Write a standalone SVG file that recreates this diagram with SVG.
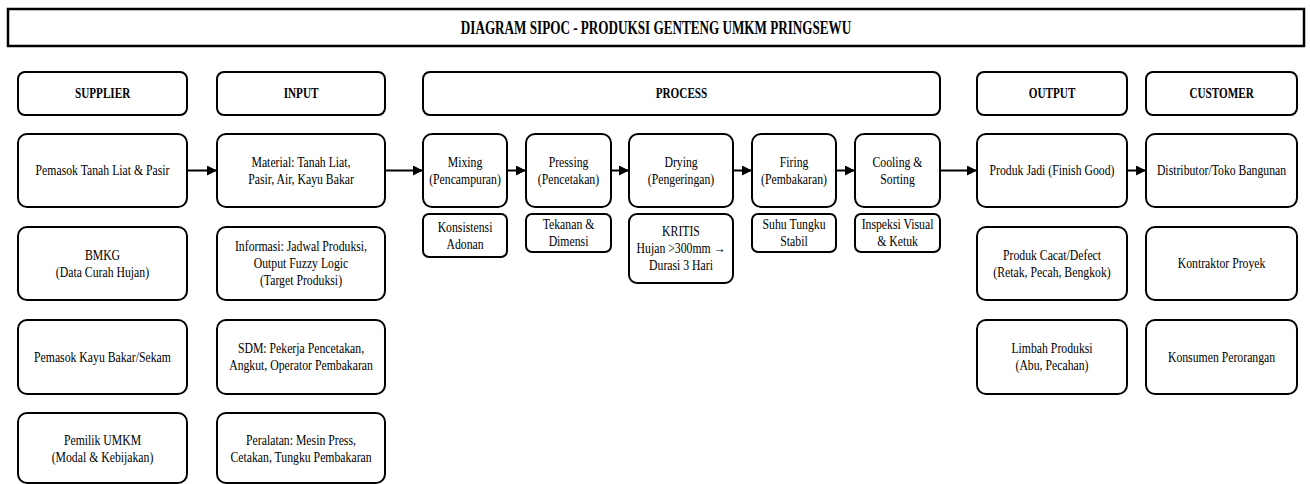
<svg xmlns="http://www.w3.org/2000/svg" width="1310" height="484" viewBox="0 0 1310 484">
<style>
.b{fill:#fff;stroke:#000;stroke-width:2}
.t,.h,.ti{font-family:"Liberation Serif","Times New Roman",serif;fill:#000;text-anchor:middle;transform-box:fill-box;transform-origin:center}
.t{font-size:14px;transform:scaleX(0.84)}
.h{font-size:14px;font-weight:bold;transform:scaleX(0.8)}
.ti{font-size:18px;font-weight:bold;transform:scaleX(0.73)}
.c{stroke:#000;stroke-width:2;fill:none;marker-end:url(#ah)}
</style>
<defs>
<marker id="ah" viewBox="0 0 10 10" refX="10" refY="5" markerWidth="10" markerHeight="10" orient="auto" markerUnits="userSpaceOnUse">
<path d="M0,0 L10,5 L0,10 z" fill="#000"/>
</marker>
</defs>
<rect width="1310" height="484" fill="#fff"/>
<g id="title">
<rect x="8" y="9" width="1296" height="37" fill="#fff" stroke="#000" stroke-width="2.5"/>
<text class="ti" x="656" y="34">DIAGRAM SIPOC - PRODUKSI GENTENG UMKM PRINGSEWU</text>
</g>
<g id="h-supplier"><rect class="b" x="18" y="72" width="169" height="43" rx="7"/><text class="h" x="102.5" y="98.5">SUPPLIER</text></g>
<g id="h-input"><rect class="b" x="217" y="72" width="168" height="43" rx="7"/><text class="h" x="301" y="98.5">INPUT</text></g>
<g id="h-process"><rect class="b" x="423" y="72" width="517" height="43" rx="7"/><text class="h" x="681.5" y="98.5">PROCESS</text></g>
<g id="h-output"><rect class="b" x="977" y="72" width="150" height="43" rx="7"/><text class="h" x="1052" y="98.5">OUTPUT</text></g>
<g id="h-customer"><rect class="b" x="1146" y="72" width="151" height="43" rx="7"/><text class="h" x="1221.5" y="98.5">CUSTOMER</text></g>

<g id="s1"><rect class="b" x="18" y="134" width="169" height="73" rx="9"/><text class="t" x="102.5" y="175.5">Pemasok Tanah Liat &amp; Pasir</text></g>
<g id="s2"><rect class="b" x="18" y="227" width="169" height="73" rx="9"/><text class="t" x="102.5" y="260">BMKG</text><text class="t" x="102.5" y="277">(Data Curah Hujan)</text></g>
<g id="s3"><rect class="b" x="18" y="320" width="169" height="74" rx="9"/><text class="t" x="102.5" y="362">Pemasok Kayu Bakar/Sekam</text></g>
<g id="s4"><rect class="b" x="18" y="413" width="169" height="70" rx="9"/><text class="t" x="102.5" y="445">Pemilik UMKM</text><text class="t" x="102.5" y="462">(Modal &amp; Kebijakan)</text></g>

<g id="i1"><rect class="b" x="217" y="134" width="168" height="73" rx="9"/><text class="t" x="301" y="167">Material: Tanah Liat,</text><text class="t" x="301" y="184">Pasir, Air, Kayu Bakar</text></g>
<g id="i2"><rect class="b" x="217" y="227" width="168" height="73" rx="9"/><text class="t" x="301" y="251.5">Informasi: Jadwal Produksi,</text><text class="t" x="301" y="268.5">Output Fuzzy Logic</text><text class="t" x="301" y="285.5">(Target Produksi)</text></g>
<g id="i3"><rect class="b" x="217" y="320" width="168" height="74" rx="9"/><text class="t" x="301" y="353.5">SDM: Pekerja Pencetakan,</text><text class="t" x="301" y="370.5">Angkut, Operator Pembakaran</text></g>
<g id="i4"><rect class="b" x="217" y="413" width="168" height="70" rx="9"/><text class="t" x="301" y="445">Peralatan: Mesin Press,</text><text class="t" x="301" y="462">Cetakan, Tungku Pembakaran</text></g>

<g id="p1"><rect class="b" x="423" y="134" width="84" height="73" rx="9"/><text class="t" x="465" y="167">Mixing</text><text class="t" x="465" y="184">(Pencampuran)</text></g>
<g id="p1n"><rect class="b" x="423" y="214" width="84" height="43" rx="6"/><text class="t" x="465" y="232">Konsistensi</text><text class="t" x="465" y="249">Adonan</text></g>
<g id="p2"><rect class="b" x="526" y="134" width="85" height="73" rx="9"/><text class="t" x="568.5" y="167">Pressing</text><text class="t" x="568.5" y="184">(Pencetakan)</text></g>
<g id="p2n"><rect class="b" x="526" y="214" width="85" height="38" rx="6"/><text class="t" x="568.5" y="229.5">Tekanan &amp;</text><text class="t" x="568.5" y="246.5">Dimensi</text></g>
<g id="p3"><rect class="b" x="629" y="134" width="104" height="73" rx="9"/><text class="t" x="681" y="167">Drying</text><text class="t" x="681" y="184">(Pengeringan)</text></g>
<g id="p3n"><rect class="b" x="629" y="214" width="104" height="69" rx="8"/><text class="t" x="681" y="236.5">KRITIS</text><text class="t" x="681" y="253.5">Hujan &gt;300mm →</text><text class="t" x="681" y="270.5">Durasi 3 Hari</text></g>
<g id="p4"><rect class="b" x="752" y="134" width="84" height="73" rx="9"/><text class="t" x="794" y="167">Firing</text><text class="t" x="794" y="184">(Pembakaran)</text></g>
<g id="p4n"><rect class="b" x="752" y="214" width="84" height="38" rx="6"/><text class="t" x="794" y="229.5">Suhu Tungku</text><text class="t" x="794" y="246.5">Stabil</text></g>
<g id="p5"><rect class="b" x="855" y="134" width="85" height="73" rx="9"/><text class="t" x="897.5" y="167">Cooling &amp;</text><text class="t" x="897.5" y="184">Sorting</text></g>
<g id="p5n"><rect class="b" x="855" y="214" width="85" height="38" rx="6"/><text class="t" x="897.5" y="229.5">Inspeksi Visual</text><text class="t" x="897.5" y="246.5">&amp; Ketuk</text></g>

<g id="o1"><rect class="b" x="977" y="134" width="150" height="73" rx="9"/><text class="t" x="1052" y="175.5">Produk Jadi (Finish Good)</text></g>
<g id="o2"><rect class="b" x="977" y="227" width="150" height="73" rx="9"/><text class="t" x="1052" y="260">Produk Cacat/Defect</text><text class="t" x="1052" y="277">(Retak, Pecah, Bengkok)</text></g>
<g id="o3"><rect class="b" x="977" y="320" width="150" height="74" rx="9"/><text class="t" x="1052" y="353.5">Limbah Produksi</text><text class="t" x="1052" y="370.5">(Abu, Pecahan)</text></g>

<g id="c1"><rect class="b" x="1146" y="134" width="151" height="73" rx="9"/><text class="t" x="1221.5" y="175.5">Distributor/Toko Bangunan</text></g>
<g id="c2"><rect class="b" x="1146" y="227" width="151" height="73" rx="9"/><text class="t" x="1221.5" y="268.5">Kontraktor Proyek</text></g>
<g id="c3"><rect class="b" x="1146" y="320" width="151" height="74" rx="9"/><text class="t" x="1221.5" y="362">Konsumen Perorangan</text></g>

<g id="connectors">
<line class="c" x1="187" y1="170.5" x2="217" y2="170.5"/>
<line class="c" x1="385" y1="170.5" x2="423" y2="170.5"/>
<line class="c" x1="507" y1="170.5" x2="526" y2="170.5"/>
<line class="c" x1="611" y1="170.5" x2="629" y2="170.5"/>
<line class="c" x1="733" y1="170.5" x2="752" y2="170.5"/>
<line class="c" x1="836" y1="170.5" x2="855" y2="170.5"/>
<line class="c" x1="940" y1="170.5" x2="977" y2="170.5"/>
<line class="c" x1="1127" y1="170.5" x2="1146" y2="170.5"/>
</g>
</svg>
